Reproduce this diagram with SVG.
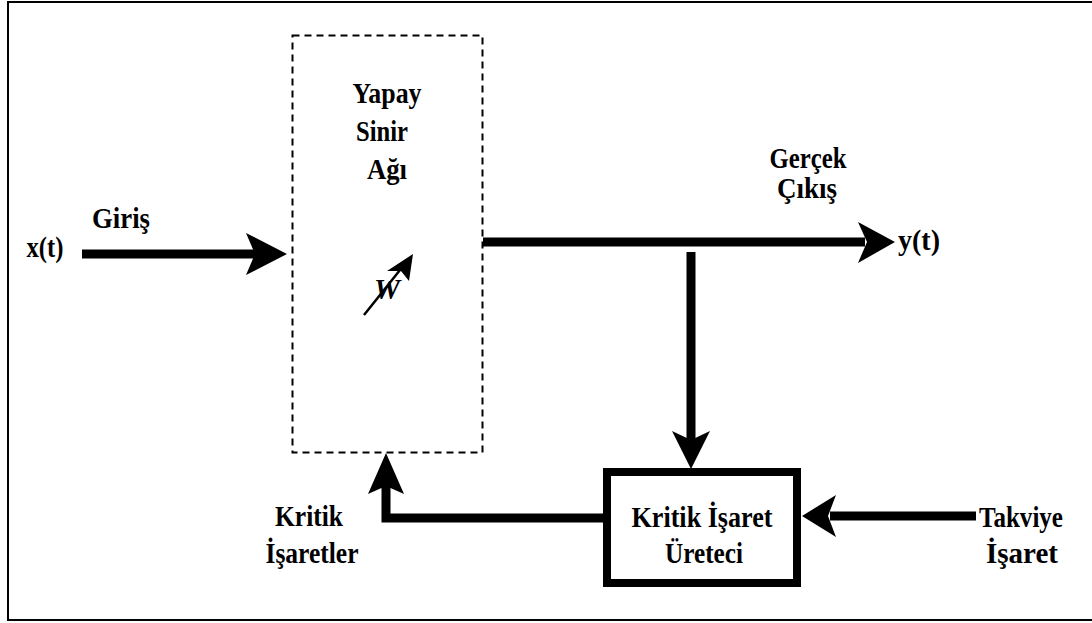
<svg xmlns="http://www.w3.org/2000/svg" width="1092" height="623" viewBox="0 0 1092 623">
  <style>
    text { font-family: "Liberation Serif", "Times New Roman", serif; font-weight: bold; font-size: 29px; fill: #000; text-anchor: middle; }
    .wire { stroke: #000; stroke-width: 9; fill: none; }
    .head { fill: #000; stroke: none; }
  </style>
  <rect x="0" y="0" width="1092" height="623" fill="#fff"/>
  <!-- outer frame -->
  <rect x="8" y="2" width="1100" height="618" fill="none" stroke="#000" stroke-width="2"/>

  <!-- neural network block -->
  <g id="node-ysa">
    <rect x="292.5" y="35.5" width="190" height="417" fill="none" stroke="#000" stroke-width="2" stroke-dasharray="7,5"/>
    <text x="387" y="103" textLength="69" lengthAdjust="spacingAndGlyphs">Yapay</text>
    <text x="382" y="141" textLength="52" lengthAdjust="spacingAndGlyphs">Sinir</text>
    <text x="387" y="179" textLength="40" lengthAdjust="spacingAndGlyphs">Ağı</text>
    <text x="387" y="299" font-style="italic" font-size="30" textLength="26" lengthAdjust="spacingAndGlyphs">W</text>
    <line x1="364" y1="315" x2="400" y2="270" stroke="#000" stroke-width="2.5"/>
    <polygon class="head" points="413,254 409,281 401,271 387,271"/>
  </g>

  <!-- critic signal generator block -->
  <g id="node-kritik">
    <rect x="607" y="472" width="190" height="111" fill="#fff" stroke="#000" stroke-width="8"/>
    <text x="702" y="527" textLength="141" lengthAdjust="spacingAndGlyphs">Kritik İşaret</text>
    <text x="704" y="563" textLength="78" lengthAdjust="spacingAndGlyphs">Üreteci</text>
  </g>

  <!-- connectors -->
  <g id="connectors">
    <!-- input -->
    <line class="wire" x1="82" y1="254" x2="255" y2="254"/>
    <polygon class="head" points="287,254 246,233 255,254 246,275"/>
    <!-- output -->
    <line class="wire" x1="483" y1="242" x2="865" y2="242"/>
    <polygon class="head" points="895,242 858,222 867,242 858,263"/>
    <!-- branch down to critic -->
    <line class="wire" x1="691" y1="252" x2="691" y2="440"/>
    <polygon class="head" points="691,469 672,431 691,440 710,431"/>
    <!-- reinforcement input -->
    <line class="wire" x1="976" y1="516" x2="830" y2="516"/>
    <polygon class="head" points="802,516 836,495 828,516 836,537"/>
    <!-- feedback to network -->
    <polyline class="wire" points="603,518 386,518 386,485"/>
    <polygon class="head" points="386,453 368,494 386,486 404,494"/>
  </g>

  <!-- labels -->
  <g id="labels">
    <text x="45" y="257" textLength="37" lengthAdjust="spacingAndGlyphs">x(t)</text>
    <text x="121" y="228" textLength="58" lengthAdjust="spacingAndGlyphs">Giriş</text>
    <text x="808" y="168" textLength="77" lengthAdjust="spacingAndGlyphs">Gerçek</text>
    <text x="807" y="198" textLength="60" lengthAdjust="spacingAndGlyphs">Çıkış</text>
    <text x="919" y="250" textLength="42" lengthAdjust="spacingAndGlyphs">y(t)</text>
    <text x="1021" y="527" textLength="84" lengthAdjust="spacingAndGlyphs">Takviye</text>
    <text x="1022" y="563" textLength="72" lengthAdjust="spacingAndGlyphs">İşaret</text>
    <text x="309" y="526" textLength="68" lengthAdjust="spacingAndGlyphs">Kritik</text>
    <text x="312" y="563" textLength="93" lengthAdjust="spacingAndGlyphs">İşaretler</text>
  </g>
</svg>
